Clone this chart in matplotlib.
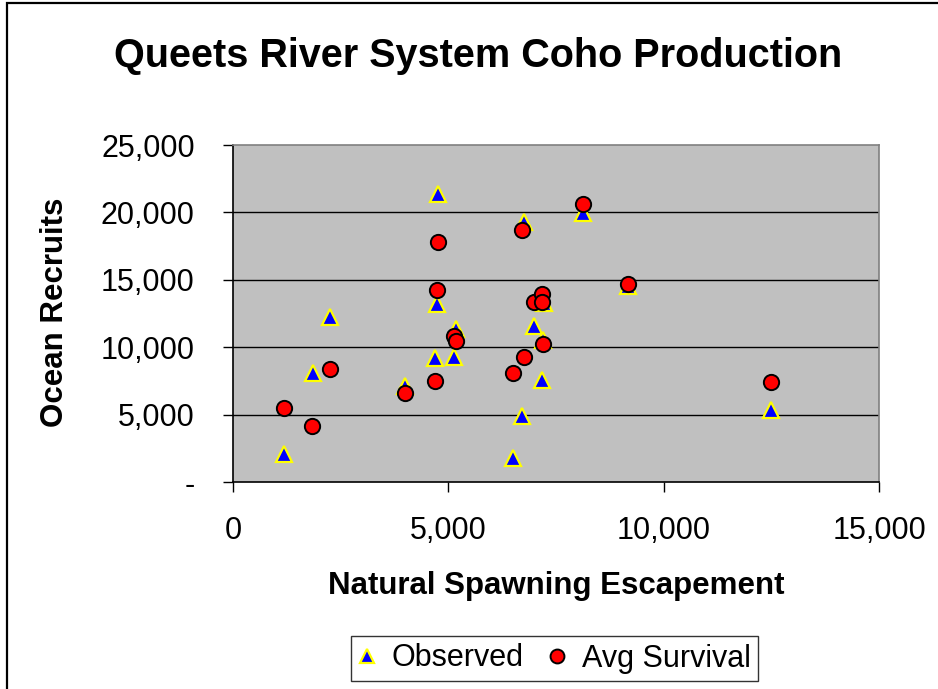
import matplotlib
matplotlib.use("Agg")
import matplotlib.pyplot as plt
from matplotlib.patches import Rectangle
from matplotlib.lines import Line2D
from matplotlib.ticker import FuncFormatter

plt.rcParams['font.family'] = ['Liberation Sans', 'DejaVu Sans']

# Data
obs_x = [1186, 1849, 2249, 3983, 4700, 4730, 4769, 5139, 5178, 6503,
         6718, 6757, 6988, 7166, 7190, 7219, 8127, 9168, 12497]
obs_y = [2074, 8074, 12267, 7133, 9185, 13185, 21356, 9304, 11356, 1822,
         4911, 19259, 11550, 7550, 10541, 13259, 19926, 14541, 5356]
avg_x = [1186, 1841, 2249, 3999, 4700, 4730, 4762, 5139, 5178, 6503,
         6718, 6764, 6988, 7166, 7166, 7203, 8127, 9168, 12497]
avg_y = [5481, 4170, 8415, 6637, 7504, 14244, 17800, 10837, 10444, 8074,
         18689, 9259, 13378, 13926, 13378, 10222, 20615, 14689, 7452]

x_ticks = [0, 5000, 10000, 15000]
y_ticks = [0, 5000, 10000, 15000, 20000, 25000]

title = "Queets River System Coho Production"
x_label = "Natural Spawning Escapement"
y_label = "Ocean Recruits"
series_names = ["Observed", "Avg Survival"]

W, H = 938, 689
fig = plt.figure(figsize=(W / 100, H / 100), dpi=100)
fig.patch.set_facecolor('white')

# outer chart border (left and top visible)
fig.patches.append(Rectangle((7 / W, -0.5), 2.0, 0.5 + 1 - 3 / H,
                             transform=fig.transFigure, fill=False,
                             edgecolor='black', linewidth=1.6))

ax = fig.add_axes([233 / W, 1 - 482.3 / H, (879 - 233) / W, (482.3 - 145) / H])
ax.set_facecolor('#C0C0C0')
ax.set_xlim(0, 15000)
ax.set_ylim(0, 25000)
ax.set_xticks(x_ticks)
ax.set_yticks(y_ticks)

ax.xaxis.set_major_formatter(FuncFormatter(lambda v, p: f"{int(v):,}"))
ax.yaxis.set_major_formatter(FuncFormatter(lambda v, p: "-" if v == 0 else f"{int(v):,}"))

for y in y_ticks[1:-1]:
    ax.axhline(y, color='black', linewidth=1.0, zorder=1)

ax.spines['left'].set_color('black')
ax.spines['bottom'].set_color('black')
ax.spines['top'].set_color('#808080')
ax.spines['right'].set_color('#808080')
for s in ax.spines.values():
    s.set_linewidth(1.2)

ax.tick_params(axis='both', direction='out', length=7.5, width=1.0,
               labelsize=22, colors='black')
ax.tick_params(axis='x', pad=17)
ax.tick_params(axis='y', pad=20)

ax.plot(obs_x, obs_y, linestyle='none', marker='^', markersize=11,
        markerfacecolor='#0000FF', markeredgecolor='#FFFF00',
        markeredgewidth=1.6, zorder=3)
ax.plot(avg_x, avg_y, linestyle='none', marker='o', markersize=11,
        markerfacecolor='#FF0000', markeredgecolor='black',
        markeredgewidth=1.4, zorder=4)

fig.text(478.5 / W, 1 - 67 / H, title, ha='center', va='baseline',
         fontsize=28.5, fontweight='bold')
fig.text(556 / W, 1 - 586 / H, x_label, ha='center', va='center',
         fontsize=22.5, fontweight='bold')
fig.text(55 / W, 1 - 312 / H, y_label, ha='center', va='center',
         fontsize=22.5, fontweight='bold', rotation=90)

handles = [
    Line2D([], [], linestyle='none', marker='^', markersize=10,
           markerfacecolor='#0000FF', markeredgecolor='#FFFF00', markeredgewidth=1.6),
    Line2D([], [], linestyle='none', marker='o', markersize=10,
           markerfacecolor='#FF0000', markeredgecolor='black', markeredgewidth=1.4),
]
leg = fig.legend(handles, series_names, loc='center',
                 bbox_to_anchor=(554.5 / W, 1 - 658.5 / H), ncol=2,
                 fontsize=22, frameon=True, fancybox=False,
                 handlelength=0.6, handletextpad=0.5, columnspacing=0.8,
                 borderpad=0.25, borderaxespad=0)
leg.get_frame().set_edgecolor('black')
leg.get_frame().set_linewidth(1.0)

fig.savefig("out.png", dpi=100)
